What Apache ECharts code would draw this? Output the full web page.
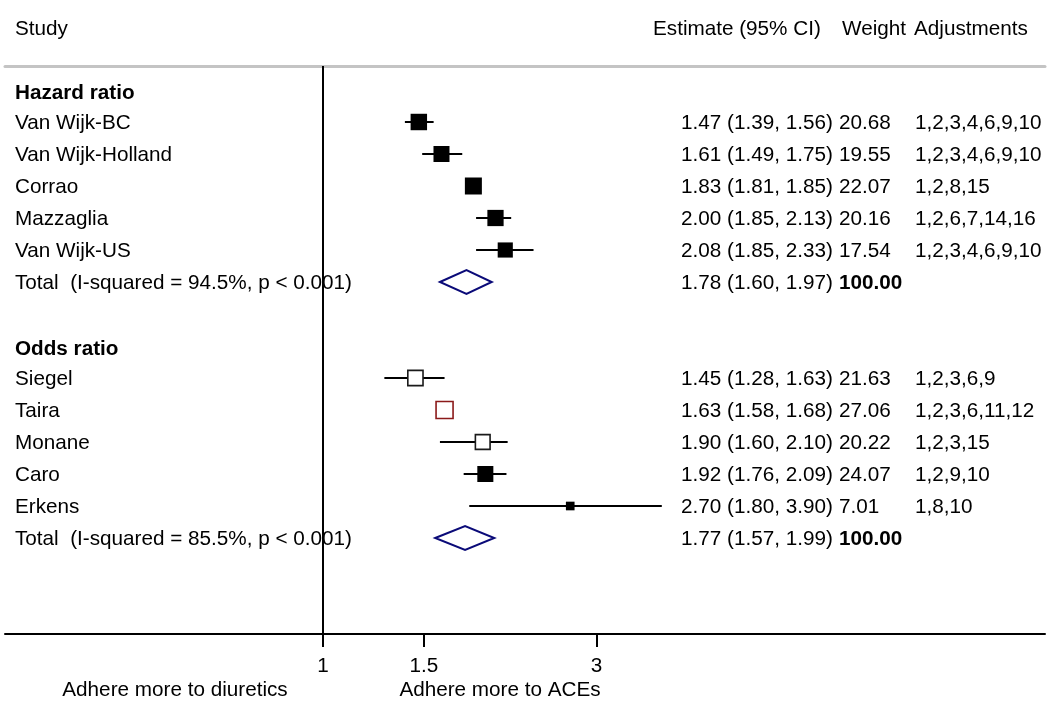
<!DOCTYPE html>
<html><head><meta charset="utf-8">
<script src="https://cdn.jsdelivr.net/npm/echarts@6/dist/echarts.min.js"></script>
<style>html,body{margin:0;padding:0;background:#fff}#c{width:1050px;height:719px}</style>
</head><body><div id="c"></div>
<script>
// ---- data ----
const hrStudies = ['Van Wijk-BC', 'Van Wijk-Holland', 'Corrao', 'Mazzaglia', 'Van Wijk-US'];
const hrEst     = [1.47, 1.61, 1.83, 2.00, 2.08];
const hrLow     = [1.39, 1.49, 1.81, 1.85, 1.85];
const hrHigh    = [1.56, 1.75, 1.85, 2.13, 2.33];
const hrWeight  = [20.68, 19.55, 22.07, 20.16, 17.54];
const hrAdj     = ['1,2,3,4,6,9,10', '1,2,3,4,6,9,10', '1,2,8,15', '1,2,6,7,14,16', '1,2,3,4,6,9,10'];
const hrPooled  = [1.78, 1.60, 1.97];   // est, low, high
const hrHet     = ['94.5%', '< 0.001'];

const orStudies = ['Siegel', 'Taira', 'Monane', 'Caro', 'Erkens'];
const orEst     = [1.45, 1.63, 1.90, 1.92, 2.70];
const orLow     = [1.28, 1.58, 1.60, 1.76, 1.80];
const orHigh    = [1.63, 1.68, 2.10, 2.09, 3.90];
const orWeight  = [21.63, 27.06, 20.22, 24.07, 7.01];
const orAdj     = ['1,2,3,6,9', '1,2,3,6,11,12', '1,2,3,15', '1,2,9,10', '1,8,10'];
const orPooled  = [1.77, 1.57, 1.99];
const orHet     = ['85.5%', '< 0.001'];

const xTicks = [1, 1.5, 3];
const groupTitles = ['Hazard ratio', 'Odds ratio'];
const hollowStudies = ['Siegel', 'Taira', 'Monane'];

// ---- build rows ----
const FONT = '"Liberation Sans", Arial, Helvetica, sans-serif';
const FS = 20.7;
const rows = [];
function addGroup(title, studies, est, lo, hi, w, adj, pooled, het) {
  rows.push({type: 'header', label: title});
  const maxW = Math.max.apply(null, w);
  studies.forEach((s, i) => rows.push({type: 'study', label: s, est: est[i], lo: lo[i], hi: hi[i], w: w[i], adj: adj[i], maxW}));
  rows.push({type: 'total', label: 'Total  (I-squared = ' + het[0] + ', p ' + het[1] + ')', est: pooled[0], lo: pooled[1], hi: pooled[2], w: 100});
}
addGroup(groupTitles[0], hrStudies, hrEst, hrLow, hrHigh, hrWeight, hrAdj, hrPooled, hrHet);
rows.push({type: 'blank'});
addGroup(groupTitles[1], orStudies, orEst, orLow, orHigh, orWeight, orAdj, orPooled, orHet);

const fmt = v => v.toFixed(2);

const squareData = [], ciData = [], diamondData = [];
rows.forEach((r, i) => {
  if (r.type === 'study') {
    const hollow = hollowStudies.indexOf(r.label) >= 0;
    squareData.push({
      value: [r.est, i],
      symbolSize: 17 * Math.sqrt(r.w / r.maxW),
      itemStyle: hollow
        ? {color: '#fff', borderColor: r.label === 'Taira' ? '#8b1a1a' : '#1a1a1a', borderWidth: 1.6, opacity: 1}
        : {color: '#000', borderWidth: 0, opacity: 1}
    });
    ciData.push([r.lo, r.hi, i]);
  } else if (r.type === 'total') {
    diamondData.push([r.lo, r.est, r.hi, i]);
  }
});

const chart = echarts.init(document.getElementById('c'), null, {renderer: 'canvas'});
chart.setOption({
  animation: false,
  backgroundColor: '#fff',
  grid: {left: 5, right: 5, top: 66, bottom: 85},
  xAxis: [{
    type: 'log', min: 0.279, max: 18.17,
    position: 'bottom',
    axisLine: {onZero: false, lineStyle: {color: '#000', width: 2}},
    axisTick: {show: true, length: 13, lineStyle: {color: '#000', width: 2}, customValues: xTicks},
    axisLabel: {customValues: xTicks, formatter: v => String(+(+v).toFixed(2)), margin: 22, fontSize: FS, color: '#000', fontFamily: FONT},
    minorTick: {show: false},
    splitLine: {show: false}
  }, {
    type: 'value', position: 'top', min: 0, max: 1,
    axisLine: {show: true, onZero: false, lineStyle: {color: '#c4c4c4', width: 3}},
    axisTick: {show: false}, axisLabel: {show: false}, splitLine: {show: false}
  }],
  yAxis: {type: 'value', inverse: true, min: -0.75, max: 17, show: false},
  series: [
    {
      type: 'custom', z: 2,
      data: ciData,
      encode: {x: [0, 1], y: 2},
      renderItem: (params, api) => {
        const p1 = api.coord([api.value(0), api.value(2)]);
        const p2 = api.coord([api.value(1), api.value(2)]);
        return {type: 'line', shape: {x1: p1[0], y1: p1[1], x2: p2[0], y2: p2[1]}, style: {stroke: '#000', lineWidth: 2}};
      }
    },
    {
      type: 'scatter', z: 3, symbol: 'rect',
      itemStyle: {opacity: 1},
      data: squareData,
      markLine: {
        silent: true, symbol: 'none', animation: false,
        label: {show: false},
        lineStyle: {color: '#000', width: 2, type: 'solid', opacity: 1},
        data: [{xAxis: 1}]
      }
    },
    {
      type: 'custom', z: 3,
      data: diamondData,
      encode: {x: [0, 1, 2], y: 3},
      renderItem: (params, api) => {
        const y = api.value(3);
        const pl = api.coord([api.value(0), y]);
        const pc = api.coord([api.value(1), y]);
        const pr = api.coord([api.value(2), y]);
        const h = 12;
        return {type: 'polygon', shape: {points: [[pl[0], pl[1]], [pc[0], pc[1] - h], [pr[0], pr[1]], [pc[0], pc[1] + h]]},
          style: {fill: '#fff', stroke: '#0a0a78', lineWidth: 2}};
      }
    },
    {
      type: 'custom', z: 4,
      data: rows.map((r, i) => [1, i]),
      encode: {x: 0, y: 1},
      renderItem: (params, api) => {
        const r = rows[params.dataIndex];
        const y = api.coord([1, api.value(1)])[1];
        const kids = [];
        const st = (text, bold) => ({text, fill: '#000', fontSize: FS, fontFamily: FONT, fontWeight: bold ? 'bold' : 'normal', align: 'left', verticalAlign: 'middle'});
        if (r.type === 'header') {
          kids.push({type: 'text', x: 15, y: y + 3, style: st(r.label, true)});
        } else if (r.type === 'study' || r.type === 'total') {
          kids.push({type: 'text', x: 15, y: y + 1, style: st(r.label, false)});
          kids.push({type: 'text', x: 681, y: y + 1, style: st(fmt(r.est) + ' (' + fmt(r.lo) + ', ' + fmt(r.hi) + ')', false)});
          kids.push({type: 'text', x: 839, y: y + 1, style: st(fmt(r.w), r.type === 'total')});
          if (r.adj) kids.push({type: 'text', x: 915, y: y + 1, style: st(r.adj, false)});
        }
        return {type: 'group', children: kids};
      }
    }
  ],
  graphic: [
    {type: 'text', x: 15, y: 29, style: {text: 'Study', fontSize: FS, fontFamily: FONT, fill: '#000', align: 'left', verticalAlign: 'middle'}},
    {type: 'text', x: 653, y: 29, style: {text: 'Estimate (95% CI)', fontSize: FS, fontFamily: FONT, fill: '#000', align: 'left', verticalAlign: 'middle'}},
    {type: 'text', x: 842, y: 29, style: {text: 'Weight', fontSize: FS, fontFamily: FONT, fill: '#000', align: 'left', verticalAlign: 'middle'}},
    {type: 'text', x: 914, y: 29, style: {text: 'Adjustments', fontSize: FS, fontFamily: FONT, fill: '#000', align: 'left', verticalAlign: 'middle'}},
    {type: 'text', x: 175, y: 690, style: {text: 'Adhere more to diuretics', fontSize: FS, fontFamily: FONT, fill: '#000', align: 'center', verticalAlign: 'middle'}},
    {type: 'text', x: 500, y: 690, style: {text: 'Adhere more to ACEs', fontSize: FS, fontFamily: FONT, fill: '#000', align: 'center', verticalAlign: 'middle'}}
  ]
});
</script>
</body></html>
